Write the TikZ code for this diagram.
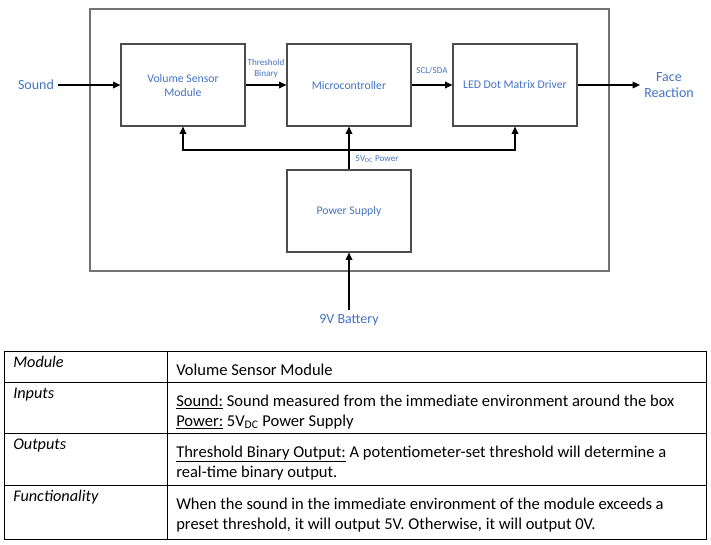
\documentclass[tikz,border=0pt]{standalone}
\usepackage{fontspec}
\setmainfont{Carlito}
\usetikzlibrary{arrows.meta}
\definecolor{wordblue}{HTML}{4472C4}

\begin{document}
\begin{tikzpicture}[x=0.75bp, y=-0.75bp, >={Triangle[length=5.5bp,width=5bp]}]

% Styles for the block diagram and the table
\tikzset{
    unitbox/.style={
        draw=black!70,
        line width=0.9bp,
        minimum width=93bp,
        minimum height=61.5bp,
        align=center,
        text=wordblue,
        font=\fontsize{8.8bp}{10.5bp}\selectfont
    },
    wire/.style={->, line width=0.9bp, black},
    signame/.style={text=wordblue, inner sep=1bp, align=center, font=\fontsize{6.8bp}{8.3bp}\selectfont},
    outname/.style={text=wordblue, inner sep=3bp, align=center, font=\fontsize{10.5bp}{12bp}\selectfont},
    cellhead/.style={anchor=base west, inner sep=0pt, align=left, font=\fontsize{12.2bp}{15bp}\selectfont\itshape},
    cellbody/.style={anchor=base west, inner sep=0pt, align=left, font=\fontsize{12.4bp}{15bp}\selectfont}
}

\useasboundingbox (0,0) rectangle (711,545);

% =============================================
% BLOCK DIAGRAM
% =============================================
\draw[black!55, line width=0.9bp] (90,9) rectangle (609,271);

\node[unitbox] (vsm) at (183,85) {Volume Sensor\\Module};
\node[unitbox] (mcu) at (349,85) {Microcontroller};
\node[unitbox] (led) at (515,85) {LED Dot Matrix Driver};
\node[unitbox] (psu) at (349,211) {Power Supply};

% Outside world
\node[outname] (sound) at (36,85) {Sound};
\node[outname] (face) at (669,85) {Face\\Reaction};
\node[outname] (battery) at (349,320) {9V Battery};

% Signal path
\draw[wire] (sound) -- (vsm);
\draw[wire] (vsm) -- (mcu);
\node[signame] (thr) at (266,68.5) {Threshold\\Binary};
\draw[wire] (mcu) -- (led);
\node[signame] (i2c) at (432,71) {SCL/SDA};
\draw[wire] (led) -- (face);

% Power distribution
\coordinate (bus) at (349,150);
\draw[wire] (psu) -- (mcu);
\draw[wire] (bus) -| (vsm.south);
\draw[wire] (bus) -| (led.south);
\node[signame] (pwr) at (377,159) {5V\textsubscript{DC} Power};
\draw[wire] (battery) -- (psu);

% =============================================
% TABLE: module description
% =============================================
\draw[black, line width=0.75bp] (4,351) rectangle (706,539);
\foreach \y in {382, 433, 485}
    \draw[black, line width=0.75bp] (4,\y) -- (706,\y);
\draw[black, line width=0.75bp] (167,351) -- (167,539);

% two-line cells are placed by the baseline of their last line
\node[cellhead] (hmod) at (13,367) {Module};
\node[cellbody] (bmod) at (176,375) {Volume Sensor Module};

\node[cellhead] (hin) at (13,398) {Inputs};
\node[cellbody] (bin) at (176,426) {\underline{Sound:} Sound measured from the immediate environment around the box\\
    \underline{Power:} 5V\textsubscript{DC} Power Supply};

\node[cellhead] (hout) at (13,449) {Outputs};
\node[cellbody] (bout) at (176,477) {\underline{Threshold Binary Output:} A potentiometer-set threshold will determine a\\
    real-time binary output.};

\node[cellhead] (hfun) at (13,501) {Functionality};
\node[cellbody] (bfun) at (176,529) {When the sound in the immediate environment of the module exceeds a\\
    preset threshold, it will output 5V. Otherwise, it will output 0V.};

\end{tikzpicture}
\end{document}
